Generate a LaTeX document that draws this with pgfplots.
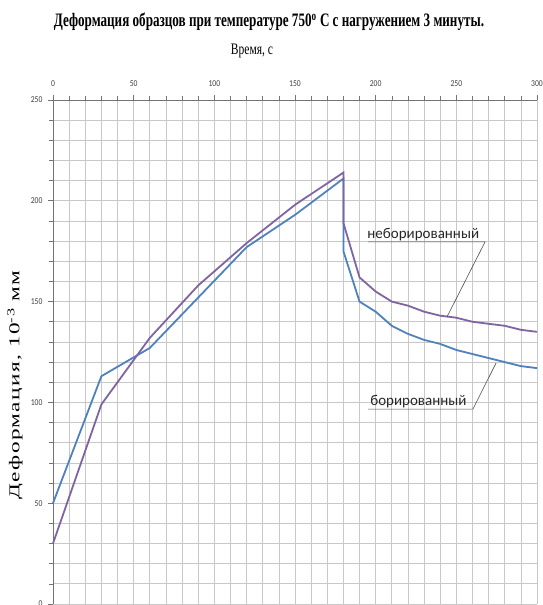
\documentclass[border=0pt]{standalone}
\usepackage{fontspec}
\setmainfont{Liberation Serif}
\newfontfamily\titlefont[FakeStretch=0.69]{Liberation Serif}
\newfontfamily\subfont[FakeStretch=0.72]{Liberation Serif}
\newfontfamily\ylabfont[FakeStretch=1.55,LetterSpace=9]{Liberation Serif}
\newfontfamily\tickfont[FakeStretch=0.85]{Carlito}
\newfontfamily\annfont{Carlito}
\usepackage{pgfplots}
\pgfplotsset{compat=1.18}
\definecolor{boronblue}{HTML}{4F81BD}
\definecolor{nonpurple}{HTML}{8064A2}
\definecolor{gridgray}{RGB}{200,200,200}
\definecolor{axgray}{RGB}{115,115,115}
\begin{document}
\begin{tikzpicture}[x=1pt,y=1pt]
\begin{axis}[
  at={(0,0)}, anchor=south west,
  width=484pt, height=504pt, scale only axis,
  xmin=0, xmax=300, ymin=0, ymax=250,
  axis x line=top, axis y line=left,
  axis line style={-, draw=axgray, line width=0.8pt},
  xtick={0,50,...,300}, minor xtick={0,10,...,300},
  ytick={0,50,...,250}, minor ytick={0,10,...,250},
  grid=both,
  major grid style={draw=gridgray, line width=0.7pt},
  minor grid style={draw=gridgray, line width=0.7pt},
  tick align=outside,
  major tick length=5pt, minor tick length=4pt,
  every tick/.style={draw=axgray, line width=0.6pt},
  every minor tick/.style={draw=axgray, line width=0.6pt},
  tick label style={font=\tickfont\fontsize{9}{10}\selectfont, text=black!75},
  /pgf/number format/assume math mode=true,
  xticklabel style={yshift=5pt},
  yticklabel style={xshift=-2pt},
  clip=false,
]
\addplot[color=boronblue, line width=1.8pt] coordinates {
 (0,50) (30,113) (60,127) (90,152) (120,177) (150,193) (180,211)
 (180,175) (190,150) (200,145) (210,138) (220,134) (230,131) (240,129)
 (250,126) (260,124) (270,122) (280,120) (290,118) (300,117)};
\addplot[color=nonpurple, line width=1.8pt] coordinates {
 (0,30) (30,99) (60,132) (90,158) (120,179) (150,198) (180,214)
 (180,189) (190,162) (200,155) (210,150) (220,148) (230,145) (240,143)
 (250,142) (260,140) (270,139) (280,138) (290,136) (300,135)};
\draw[black!70, line width=0.6pt] (axis cs:195.3,179.6) -- (axis cs:267.8,179.6) -- (axis cs:244.2,142.4);
\node[font=\annfont\fontsize{15}{16}\selectfont, text=black!85, anchor=base] at (axis cs:229.5,181.5) {неборированный};
\draw[black!70, line width=0.6pt] (axis cs:195.3,96.7) -- (axis cs:260.3,96.7) -- (axis cs:274.6,119.5);
\node[font=\annfont\fontsize{15}{16}\selectfont, text=black!85, anchor=base] at (axis cs:226.5,98.6) {борированный};
\end{axis}
\node[font=\titlefont\bfseries\fontsize{19}{21}\selectfont] at (216,582) {Деформация образцов при температуре 750\textsuperscript{o} С с нагружением 3 минуты.};
\node[font=\subfont\fontsize{16}{18}\selectfont] at (199,553) {Время, с};
\node[font=\ylabfont\fontsize{15}{17}\selectfont, rotate=90] at (-38,219) {Деформация, 10\textsuperscript{-3} мм};
\pgfresetboundingbox
\path (-53,-1) rectangle (489,604);
\end{tikzpicture}
\end{document}
